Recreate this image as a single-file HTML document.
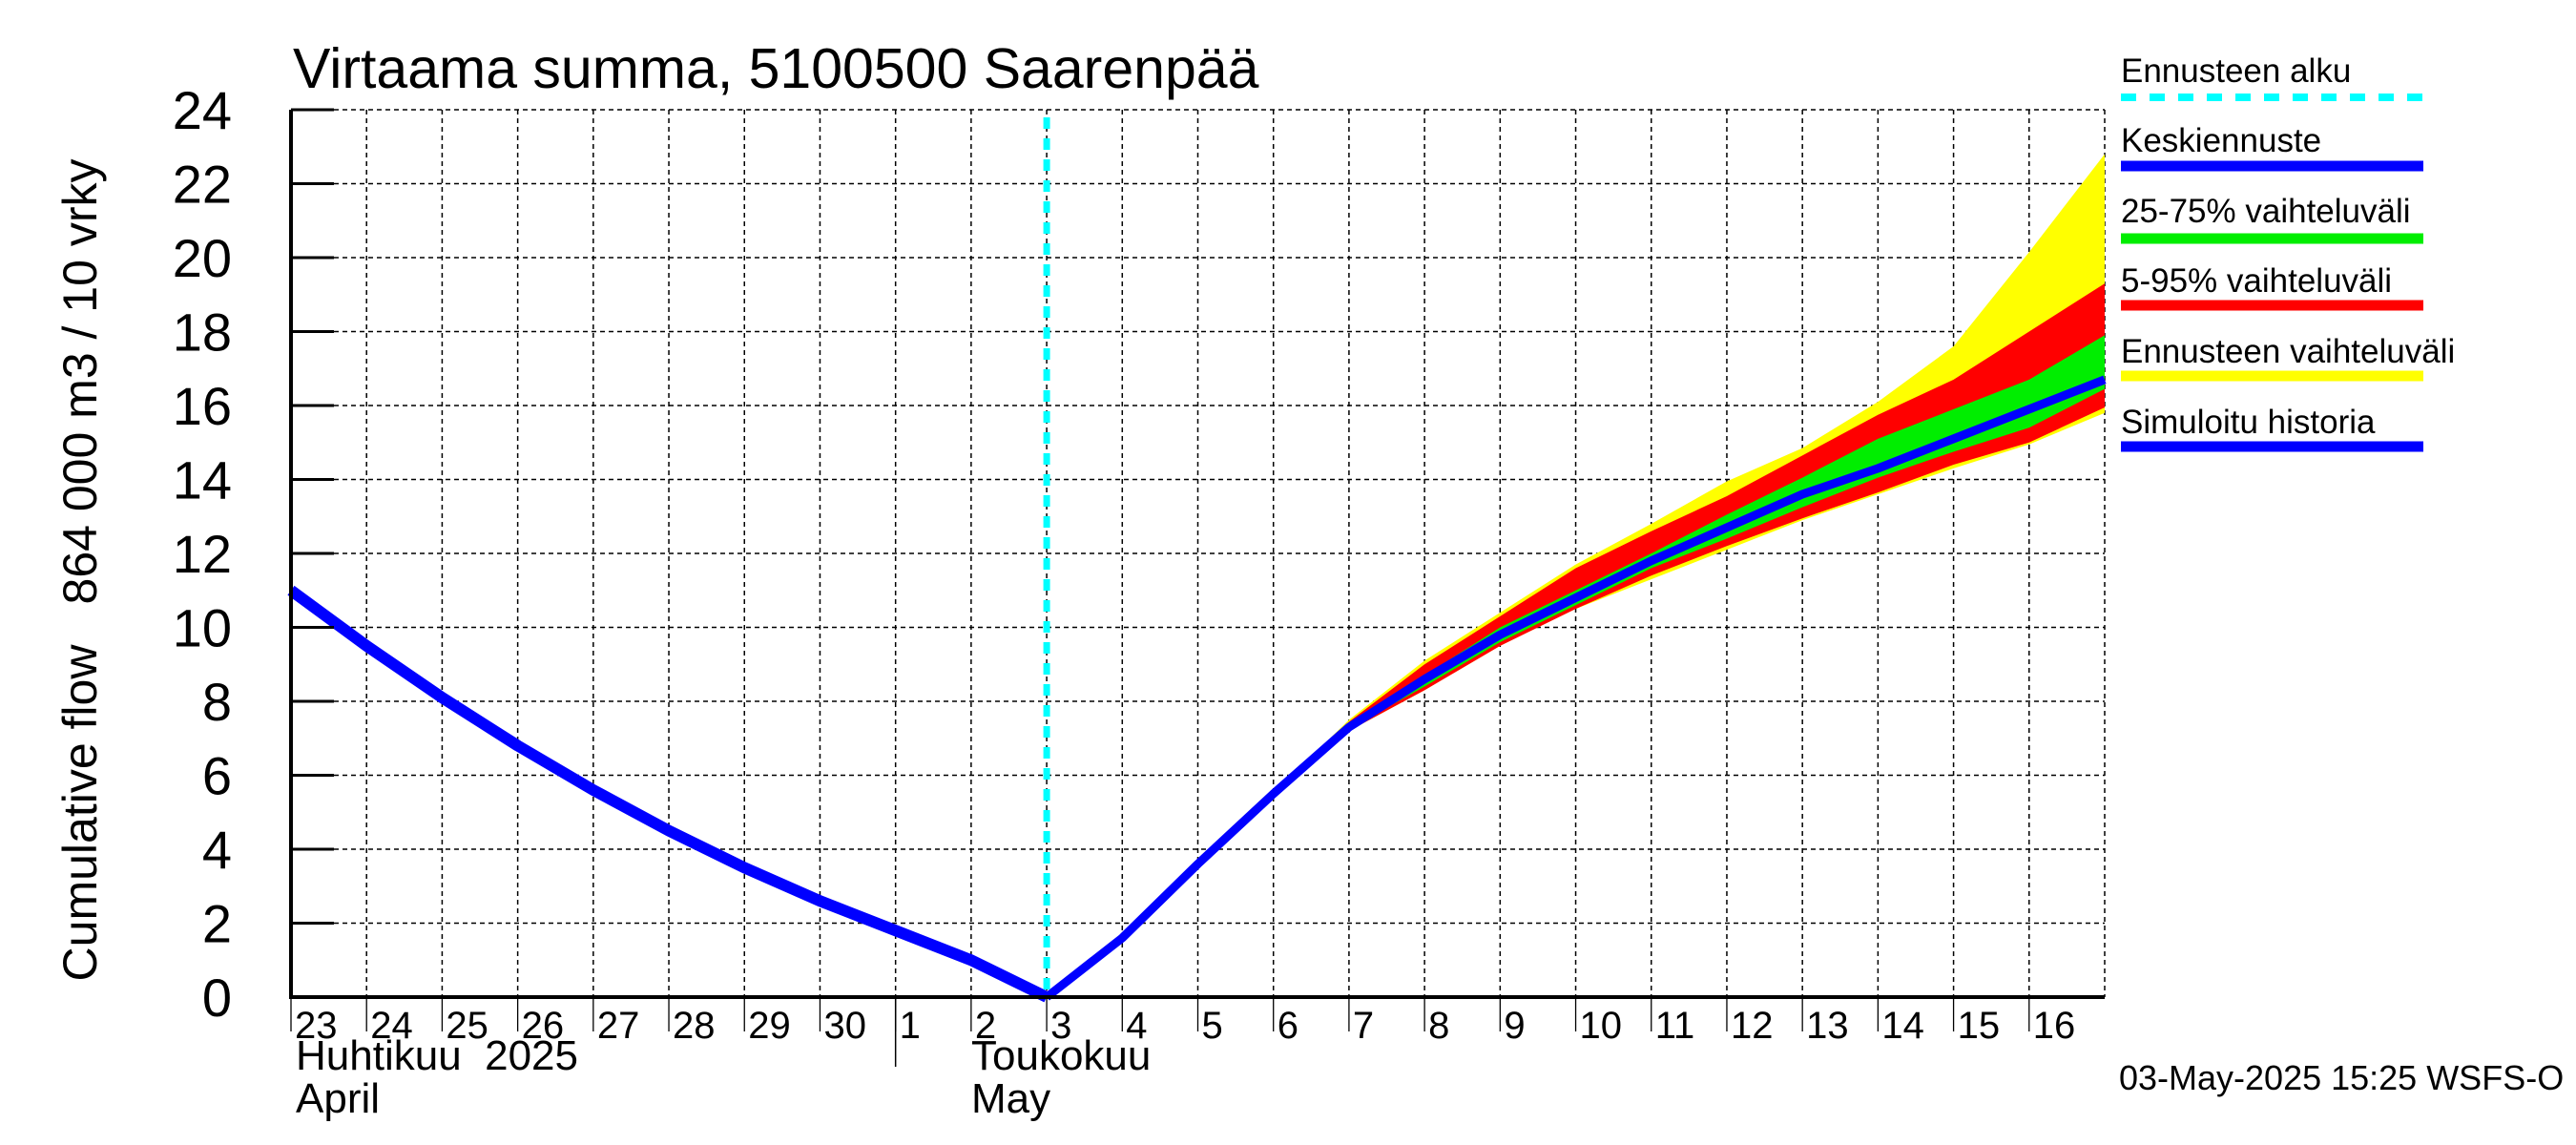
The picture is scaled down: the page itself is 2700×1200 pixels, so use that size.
<!DOCTYPE html>
<html><head><meta charset="utf-8"><style>
html,body{margin:0;padding:0;background:#fff;}
svg{display:block;font-family:"Liberation Sans",sans-serif;}
</style></head><body>
<svg id="c" width="2700" height="1200" viewBox="0 0 2700 1200" xmlns="http://www.w3.org/2000/svg">
<text x="307" y="92" font-size="59">Virtaama summa, 5100500 Saarenpää</text>
<text transform="translate(101,852) rotate(-90)" text-anchor="middle" font-size="50">Cumulative flow</text>
<text transform="translate(101,400) rotate(-90)" text-anchor="middle" font-size="50">864 000 m3 / 10 vrky</text>
<g id="grid"></g>
<g id="bands"></g>
<g id="lines"></g>
<g id="axes"></g>
<g id="legend"></g>
<text x="310" y="1121" font-size="44" xml:space="preserve">Huhtikuu  2025</text>
<text x="310" y="1166" font-size="44">April</text>
<text x="1018" y="1121" font-size="44">Toukokuu</text>
<text x="1018" y="1166" font-size="44">May</text>
<text x="2221" y="1142" font-size="36">03-May-2025 15:25 WSFS-O</text>
</svg>
<script>
const dayLabels=[23,24,25,26,27,28,29,30,1,2,3,4,5,6,7,8,9,10,11,12,13,14,15,16];
const yTicks=[0,2,4,6,8,10,12,14,16,18,20,22,24];
const history=[11.0,9.5,8.1,6.8,5.6,4.5,3.5,2.6,1.8,1.0,0];
const median=[0,1.6,3.6,5.5,7.3,8.6,9.8,10.8,11.8,12.7,13.6,14.3,15.1,15.9,16.7];
const ensMax=[0,1.6,3.6,5.5,7.5,9.1,10.4,11.7,12.8,13.95,14.85,16.1,17.6,20.15,22.8];
const p95=[0,1.6,3.6,5.5,7.45,9.0,10.3,11.6,12.6,13.55,14.65,15.75,16.7,18.0,19.3];
const p75=[0,1.6,3.6,5.5,7.35,8.7,10.0,11.0,12.0,13.05,14.05,15.1,15.9,16.7,17.9];
const p25=[0,1.6,3.6,5.5,7.25,8.4,9.6,10.6,11.6,12.4,13.25,14.05,14.75,15.4,16.45];
const p5=[0,1.6,3.6,5.5,7.2,8.3,9.5,10.5,11.4,12.2,12.95,13.65,14.4,15.0,15.95];
const ensMin=[0,1.6,3.6,5.5,7.2,8.3,9.5,10.5,11.3,12.1,12.9,13.6,14.3,14.95,15.8];
const forecastStartDay=10;
const X0=305,X1=2206,Y0=1045,Y1=115,NDAYS=24,YMAX=24;
const xs=d=>X0+(X1-X0)*d/NDAYS;
const ys=v=>Y0-(Y0-Y1)*v/YMAX;
const NS="http://www.w3.org/2000/svg";
function mk(tag,attrs,parent){const e=document.createElementNS(NS,tag);for(const k in attrs)e.setAttribute(k,attrs[k]);parent.appendChild(e);return e;}
const grid=document.getElementById('grid'),axes=document.getElementById('axes'),bands=document.getElementById('bands'),lines=document.getElementById('lines'),legend=document.getElementById('legend');
for(let i=1;i<=NDAYS;i++){const l=mk('line',{x1:xs(i),x2:xs(i),y1:Y1,y2:Y0,stroke:'#000','stroke-width':1.5,'stroke-dasharray':'5,4'},grid);

}
yTicks.forEach(v=>{if(v>0){const l=mk('line',{x1:X0,x2:X1,y1:ys(v),y2:ys(v),stroke:'#000','stroke-width':1.5,'stroke-dasharray':'5,4'},grid);

}
const t=mk('line',{x1:X0,x2:X0+45,y1:ys(v),y2:ys(v),stroke:'#000','stroke-width':3},axes);


const tx=mk('text',{x:243,y:ys(v)+20,'text-anchor':'end','font-size':56},axes);tx.textContent=v;

});
function area(up,lo,fill,name){const off=forecastStartDay;let pts=[];up.forEach((v,i)=>pts.push(xs(off+i)+','+ys(v)));for(let i=lo.length-1;i>=0;i--)pts.push(xs(off+i)+','+ys(lo[i]));
const p=mk('polygon',{points:pts.join(' '),fill:fill},bands);

}
area(ensMax,ensMin,'#ffff00','ensemble-range-band');
area(p95,p5,'#ff0000','p5-95-band');
area(p75,p25,'#00ee00','p25-75-band');
const hl=mk('polyline',{points:history.map((v,i)=>xs(i)+','+ys(v)).join(' '),fill:'none',stroke:'#0000ff','stroke-width':12,'stroke-linejoin':'round'},lines);


const ml=mk('polyline',{points:median.map((v,i)=>xs(forecastStartDay+i)+','+ys(v)).join(' '),fill:'none',stroke:'#0000ff','stroke-width':9,'stroke-linejoin':'round'},lines);


const fl=mk('line',{x1:xs(forecastStartDay),x2:xs(forecastStartDay),y1:Y1+8,y2:Y0,stroke:'#00ffff','stroke-width':7,'stroke-dasharray':'12,10'},lines);


const ax=mk('path',{d:`M${X0},${Y1} V${Y0} H${X1}`,fill:'none',stroke:'#000','stroke-width':4},axes);


for(let i=0;i<NDAYS;i++){const t=mk('line',{x1:xs(i),x2:xs(i),y1:Y0,y2:Y0+36,stroke:'#000','stroke-width':1.3},axes);


const tx=mk('text',{x:xs(i)+4,y:Y0+43,'font-size':40},axes);tx.textContent=dayLabels[i];

}
const sep=mk('line',{x1:xs(8),x2:xs(8),y1:Y0,y2:1118,stroke:'#000','stroke-width':1.5},axes);


const legItems=[['Ennusteen alku','#00ffff',true],['Keskiennuste','#0000ff',false],['25-75% vaihteluväli','#00ee00',false],['5-95% vaihteluväli','#ff0000',false],['Ennusteen vaihteluväli','#ffff00',false],['Simuloitu historia','#0000ff',false]];
const legTextY=[86,159,233,306,380,454],legLineY=[102,174,250,320,394,468];
legItems.forEach((it,i)=>{const t=mk('text',{x:2223,y:legTextY[i],'font-size':35},legend);t.textContent=it[0];


const l=mk('line',{x1:2223,x2:2540,y1:legLineY[i],y2:legLineY[i],stroke:it[1],'stroke-width':it[2]?8:11},legend);
if(it[2])l.setAttribute('stroke-dasharray','16,14');

});
</script>
</body></html>
